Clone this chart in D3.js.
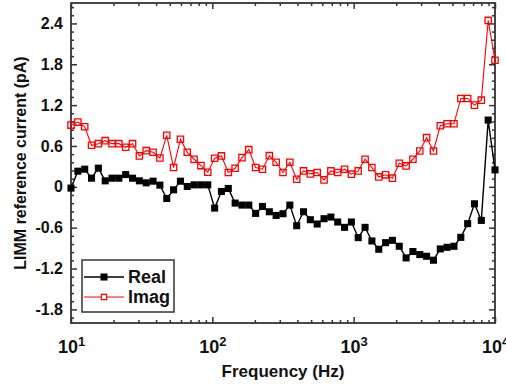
<!DOCTYPE html>
<html>
<head>
<meta charset="utf-8">
<script src="https://cdn.jsdelivr.net/npm/d3@7/dist/d3.min.js"></script>
<style>
  html, body { margin: 0; padding: 0; background: #fff; }
  svg { display: block; }
  text { font-family: "Liberation Sans", Arial, sans-serif; font-weight: bold; fill: #111; }
</style>
</head>
<body>
<svg id="chart" width="506" height="387"></svg>
<script>
// ---- data ----
const frequencies = [10, 11.18, 12.50, 13.97, 15.62, 17.46, 19.51, 21.81, 24.38, 27.26,
  30.47, 34.06, 38.08, 42.56, 47.58, 53.19, 59.46, 66.47, 74.30, 83.05,
  92.84, 103.8, 116.0, 129.7, 145.0, 162.1, 181.2, 202.5, 226.4, 253.1,
  282.9, 316.2, 353.5, 395.2, 441.7, 493.8, 552.0, 617.1, 689.8, 771.1,
  861.9, 963.6, 1077, 1204, 1346, 1505, 1682, 1880, 2102, 2350,
  2626, 2936, 3282, 3669, 4101, 4584, 5125, 5729, 6404, 7159,
  8003, 8946, 10000];
const realValues = [-0.019, 0.23, 0.259, 0.127, 0.274, 0.088, 0.127, 0.127, 0.18, 0.127,
  0.088, 0.059, 0.083, 0.025, -0.171, -0.044, 0.083, 0.005, 0.029, 0.029,
  0.029, -0.312, -0.068, -0.024, -0.239, -0.268, -0.268, -0.39, -0.288, -0.366,
  -0.42, -0.395, -0.268, -0.571, -0.366, -0.483, -0.546, -0.468, -0.444, -0.517,
  -0.595, -0.517, -0.746, -0.595, -0.795, -0.917, -0.82, -0.786, -0.873, -1.044,
  -0.95, -0.995, -1.02, -1.078, -0.912, -0.888, -0.873, -0.742, -0.541, -0.249,
  -0.493, 0.98, 0.249];
const imagValues = [0.907, 0.951, 0.882, 0.61, 0.634, 0.678, 0.634, 0.634, 0.581, 0.634,
  0.454, 0.531, 0.507, 0.424, 0.757, 0.283, 0.698, 0.507, 0.405, 0.312,
  0.215, 0.42, 0.454, 0.21, 0.273, 0.429, 0.546, 0.283, 0.259, 0.458,
  0.361, 0.21, 0.361, 0.112, 0.234, 0.19, 0.21, 0.102, 0.234, 0.21,
  0.259, 0.186, 0.234, 0.405, 0.283, 0.146, 0.176, 0.127, 0.347, 0.307,
  0.405, 0.527, 0.722, 0.527, 0.897, 0.926, 0.926, 1.298, 1.298, 1.2,
  1.273, 2.444, 1.859];
const seriesNames = ["Real", "Imag"];
const yTickValues = [-1.8, -1.2, -0.6, 0, 0.6, 1.2, 1.8, 2.4];
const yMinorTickValues = [-1.92, -1.68, -1.56, -1.44, -1.32, -1.08, -0.96, -0.84, -0.72,
  -0.48, -0.36, -0.24, -0.12, 0.12, 0.24, 0.36, 0.48, 0.72, 0.84, 0.96, 1.08,
  1.32, 1.44, 1.56, 1.68, 1.92, 2.04, 2.16, 2.28, 2.52, 2.64];
const xTickValues = [10, 100, 1000, 10000];
const xTickExponents = ["1", "2", "3", "4"];
const xMinorTickValues = [20, 30, 40, 50, 60, 70, 80, 90, 200, 300, 400, 500, 600, 700, 800, 900,
  2000, 3000, 4000, 5000, 6000, 7000, 8000, 9000];
const xTitle = "Frequency (Hz)";
const yTitle = "LIMM reference current (pA)";

// ---- layout ----
const L = 71, R = 495, T = 3, B = 323;
const svg = d3.select("#chart");
const x = d3.scaleLog().domain([10, 10000]).range([L, R]);
const y = d3.scaleLinear().domain([-2.0, 2.7]).range([B, T]);
const axisColor = "#333";

function styleAxis(g) {
  g.select(".domain").remove();
  g.selectAll("line").attr("stroke", axisColor).attr("stroke-width", 1.5);
}

// minor ticks (all four sides, inward)
svg.append("g").attr("transform", `translate(0,${B})`)
  .call(d3.axisBottom(x).tickValues(xMinorTickValues).tickSize(-3).tickFormat(""))
  .call(styleAxis);
svg.append("g").attr("transform", `translate(0,${T})`)
  .call(d3.axisTop(x).tickValues(xMinorTickValues).tickSize(-3).tickFormat(""))
  .call(styleAxis);
svg.append("g").attr("transform", `translate(${L},0)`)
  .call(d3.axisLeft(y).tickValues(yMinorTickValues).tickSize(-3).tickFormat(""))
  .call(styleAxis);
svg.append("g").attr("transform", `translate(${R},0)`)
  .call(d3.axisRight(y).tickValues(yMinorTickValues).tickSize(-3).tickFormat(""))
  .call(styleAxis);

// major ticks
const xAxisG = svg.append("g").attr("transform", `translate(0,${B})`)
  .call(d3.axisBottom(x).tickValues(xTickValues).tickSize(-6).tickPadding(17).tickFormat(""))
  .call(styleAxis);
svg.append("g").attr("transform", `translate(0,${T})`)
  .call(d3.axisTop(x).tickValues(xTickValues).tickSize(-6).tickFormat(""))
  .call(styleAxis);
const yAxisG = svg.append("g").attr("transform", `translate(${L},0)`)
  .call(d3.axisLeft(y).tickValues(yTickValues).tickSize(-6).tickPadding(8)
    .tickFormat(d => d === 0 ? "0" : d3.format(".1f")(d).replace("−", "-")))
  .call(styleAxis);
svg.append("g").attr("transform", `translate(${R},0)`)
  .call(d3.axisRight(y).tickValues(yTickValues).tickSize(-6).tickFormat(""))
  .call(styleAxis);

yAxisG.selectAll("text")
  .attr("font-size", 16).attr("font-family", "Liberation Sans, Arial, sans-serif")
  .attr("font-weight", "bold").attr("fill", "#111");

// x tick labels with superscripts
xAxisG.selectAll(".tick").each(function(d, i) {
  const t = d3.select(this).select("text")
    .attr("font-size", 18).attr("font-family", "Liberation Sans, Arial, sans-serif")
    .attr("font-weight", "bold").attr("fill", "#111").attr("dy", "0.71em")
    .attr("text-anchor", "middle");
  t.text(null);
  t.append("tspan").text("10");
  t.append("tspan").attr("font-size", 13).attr("dy", "-0.55em").text(xTickExponents[i]);
});

// frame
svg.append("rect").attr("x", L).attr("y", T).attr("width", R - L).attr("height", B - T)
  .attr("fill", "none").attr("stroke", axisColor).attr("stroke-width", 1.8);

// ---- series ----
const line = d3.line().x(d => x(d[0])).y(d => y(d[1]));
const imagData = frequencies.map((f, i) => [f, imagValues[i]]);
const realData = frequencies.map((f, i) => [f, realValues[i]]);

svg.append("path").datum(imagData).attr("d", line)
  .attr("fill", "none").attr("stroke", "#ff0000").attr("stroke-width", 1.1);
const sq = d3.symbol().type(d3.symbolSquare);
svg.append("g").selectAll("path").data(imagData).join("path")
  .attr("transform", d => `translate(${x(d[0])},${y(d[1])})`)
  .attr("d", sq.size(40)())
  .attr("fill", "none").attr("stroke", "#ff0000").attr("stroke-width", 1.3);

svg.append("path").datum(realData).attr("d", line)
  .attr("fill", "none").attr("stroke", "#000").attr("stroke-width", 1.4);
svg.append("g").selectAll("path").data(realData).join("path")
  .attr("transform", d => `translate(${x(d[0])},${y(d[1])})`)
  .attr("d", sq.size(50)())
  .attr("fill", "#000");

// ---- legend ----
const lg = svg.append("g");
lg.append("rect").attr("x", 82).attr("y", 260).attr("width", 92).attr("height", 52)
  .attr("fill", "#fff").attr("stroke", axisColor).attr("stroke-width", 1.5);
const rows = [
  { name: seriesNames[0], color: "#000", filled: true, yy: 277, size: 50, sw: 1.4 },
  { name: seriesNames[1], color: "#ff0000", filled: false, yy: 297, size: 28, sw: 1.1 }
];
rows.forEach(r => {
  lg.append("line").attr("x1", 84).attr("x2", 124).attr("y1", r.yy).attr("y2", r.yy)
    .attr("stroke", r.color).attr("stroke-width", r.sw);
  lg.append("path").attr("transform", `translate(104,${r.yy})`)
    .attr("d", sq.size(r.size)())
    .attr("fill", r.filled ? r.color : "#fff")
    .attr("stroke", r.filled ? "none" : r.color).attr("stroke-width", 1.2);
  lg.append("text").attr("x", 128).attr("y", r.yy).attr("dy", "0.36em")
    .attr("font-size", 18).text(r.name);
});

// ---- titles ----
svg.append("text").attr("x", 283).attr("y", 377).attr("text-anchor", "middle")
  .attr("font-size", 17).text(xTitle);
svg.append("text").attr("transform", "translate(26,163) rotate(-90)")
  .attr("text-anchor", "middle").attr("font-size", 16).text(yTitle);
</script>
</body>
</html>
